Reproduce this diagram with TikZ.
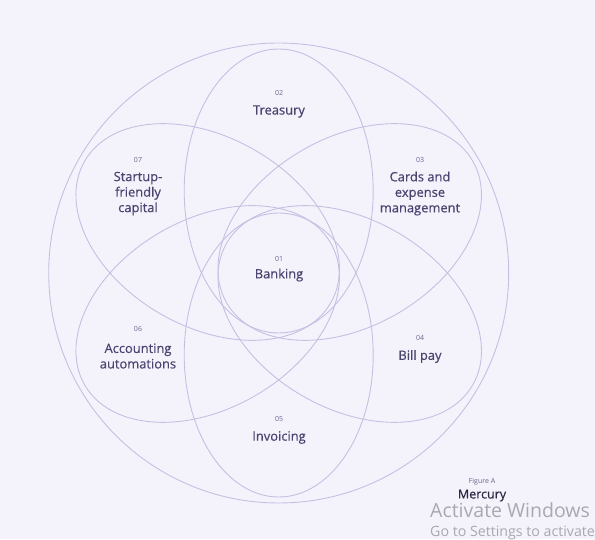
\documentclass[tikz,border=0pt]{standalone}
\usepackage{fontspec}
\setmainfont{Open Sans}
\newfontfamily\labelfont[FakeBold=0.5]{Open Sans}
\newfontfamily\numfont{Open Sans}
\newfontfamily\winfont{Open Sans}
\usetikzlibrary{calc}
\definecolor{bgc}{RGB}{244,243,252}
\definecolor{linec}{RGB}{196,192,226}
\definecolor{textc}{RGB}{74,69,112}
\definecolor{numc}{RGB}{105,100,140}
\definecolor{markc}{RGB}{45,42,70}
\definecolor{winc}{RGB}{168,168,176}
\tikzset{
  petal/.style={draw=linec, line width=0.9pt},
  outer/.style={draw=linec, line width=0.9pt},
  lbl/.style={text=textc, align=center, inner sep=0pt, font=\labelfont\fontsize{12.9}{15.5}\selectfont},
  num/.style={text=numc, inner sep=0pt, font=\numfont\fontsize{7}{8}\selectfont},
  win/.style={text=winc, inner sep=0pt, anchor=base west, font=\winfont\fontsize{19.5}{21}\selectfont}
}
\begin{document}
\begin{tikzpicture}[x=1pt,y=1pt]
\useasboundingbox (0,0) rectangle (595,539);
\clip (0,0) rectangle (595,539);
\fill[bgc] (0,0) rectangle (595,539);
\coordinate (C) at (278.7,266);
% outer circle
\draw[outer] (C) circle [radius=230];
% six petals
\foreach \ang/\nm in {90/pt, 30/pc, -30/pb, -90/pi, -150/pa, 150/ps}{
  \coordinate (\nm) at ($(C)+(\ang:82)$);
  \draw[petal, rotate around={\ang:(\nm)}] (\nm) ellipse [x radius=142, y radius=94.5];
}
% labels
\node[num] (n01) at (279,280.5) {01};
\node[lbl] (l01) at (279,264) {Banking};
\node[num] (n02) at (279,446) {02};
\node[lbl] (l02) at (279,427.5) {Treasury};
\node[num] (n07) at (138,379) {07};
\node[lbl] (l07) at (138,345.5) {Startup-\\friendly\\capital};
\node[num] (n03) at (420,379) {03};
\node[lbl] (l03) at (420,345.5) {Cards and\\expense\\management};
\node[num] (n06) at (138,210) {06};
\node[lbl] (l06) at (138,183) {Accounting\\automations};
\node[num] (n04) at (420,201) {04};
\node[lbl] (l04) at (420,182.5) {Bill pay};
\node[num] (n05) at (279,120) {05};
\node[lbl] (l05) at (279,101.5) {Invoicing};
\node[text=numc, inner sep=0pt, font=\numfont\fontsize{7}{8}\selectfont] (fig) at (482,57) {Figure A};
\node[text=markc, inner sep=0pt, font=\labelfont\fontsize{12.5}{14}\selectfont] (merc) at (482,43.5) {Mercury};
\node[win] (w1) at (430,21.5) {Activate Windows};
\node[win, font=\winfont\fontsize{14.2}{16}\selectfont] (w2) at (430,2.5) {Go to Settings to activate};
\end{tikzpicture}
\end{document}
